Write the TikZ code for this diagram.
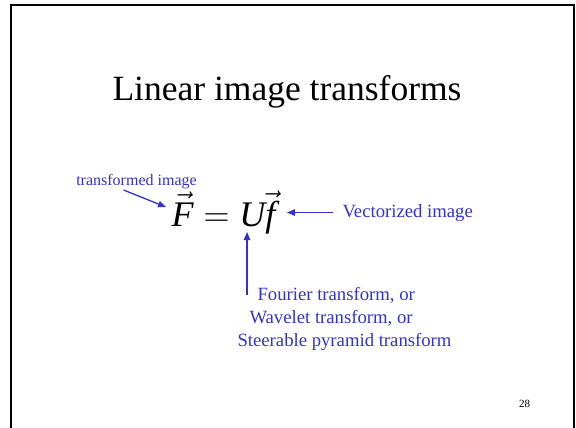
\documentclass[tikz,border=0pt]{standalone}
\usepackage{fix-cm}
\usepackage{fontspec}
\setmainfont{Liberation Serif}
\usetikzlibrary{arrows.meta,positioning}
\definecolor{pptblue}{RGB}{51,51,204}

\begin{document}
\begin{tikzpicture}[x=1pt,y=-1pt,
title/.style={font=\fontsize{35.5}{40}\selectfont,anchor=base},
note/.style={text=pptblue,font=\fontsize{18.7}{23}\selectfont},
small/.style={text=pptblue,font=\fontsize{16}{19}\selectfont},
arr/.style={-{Triangle[length=8pt,width=6.5pt]},pptblue,line width=1.3pt}
]
\useasboundingbox (0,0) rectangle (576,428);
\draw[line width=2pt] (11,430) -- (11,5.5) -- (574,5.5) -- (574,430);
\node[title] (ttl) at (287,100) {Linear image transforms};
\node[anchor=base west,font=\fontsize{36}{40}\selectfont] (eq) at (168,226)
{$\vec{\mbox{\itshape F}}=\mbox{\itshape U}\vec{\mbox{\itshape f}}$};
\node[small,anchor=base] (lbl) at (136.5,185) {transformed image};
\node[note,anchor=base west] (vec) at (339,217) {Vectorized image};
\node[note,anchor=north west,align=left] (four) at (234,284)
{\hspace*{20pt}Fourier transform, or\\\hspace*{12pt}Wavelet transform, or\\Steerable pyramid transform};
\node[anchor=base,font=\fontsize{11}{13}\selectfont] (pg) at (524.5,407) {28};
\coordinate (uhead) at (247,232);
\draw[arr] ([xshift=-13pt,yshift=2pt]lbl.south) -- ([xshift=-2pt,yshift=5pt]eq.west);
\draw[arr] ([xshift=-6pt]vec.west) -- ([xshift=8pt]eq.east |- vec.west);
\draw[arr] ([shift={(13,11)}]four.north west) -- (uhead);
\end{tikzpicture}
\end{document}
